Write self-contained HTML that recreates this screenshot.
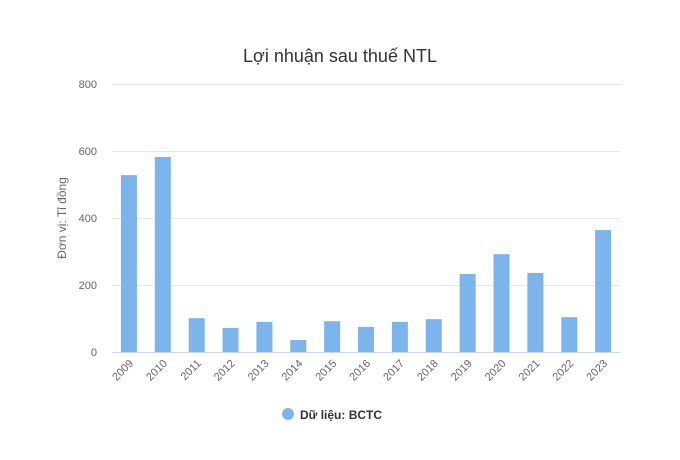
<!DOCTYPE html>
<html><head><meta charset="utf-8"><style>
body{margin:0;background:#fff;}
svg{display:block;font-family:"Liberation Sans","DejaVu Sans",sans-serif;}
</style></head><body>
<svg width="680" height="460" viewBox="0 0 680 460" xmlns="http://www.w3.org/2000/svg">
<rect width="680" height="460" fill="#fff"/>
<text x="340" y="62" text-anchor="middle" font-size="18" fill="#333">Lợi nhuận sau thuế NTL</text>
<g stroke="#e6e6e6" stroke-width="1">
<line x1="112" x2="620" y1="84.5" y2="84.5"/>
<line x1="112" x2="620" y1="151.5" y2="151.5"/>
<line x1="112" x2="620" y1="218.5" y2="218.5"/>
<line x1="112" x2="620" y1="285.5" y2="285.5"/>
</g>
<line x1="112" x2="620" y1="352.5" y2="352.5" stroke="#ccd6eb"/>
<g font-size="11" fill="#666" text-anchor="end">
<text x="97" y="88">800</text>
<text x="97" y="155">600</text>
<text x="97" y="222">400</text>
<text x="97" y="289">200</text>
<text x="97" y="356">0</text>
</g>
<text transform="translate(66,218) rotate(-90)" text-anchor="middle" font-size="12" fill="#666">Đơn vị: Tỉ đồng</text>
<g fill="#7cb5ec" id="bars"></g>
<g font-size="11" fill="#666" id="labels"></g>
<circle cx="288" cy="414" r="6" fill="#7cb5ec"/>
<text x="300" y="419" font-size="12" font-weight="bold" fill="#333">Dữ liệu: BCTC</text>
<script>
var v=[528,582,101,72,90,36,92,75,90,98,233,292,236,104,364];
var b=document.getElementById('bars'),l=document.getElementById('labels'),ns='http://www.w3.org/2000/svg';
for(var i=0;i<15;i++){var cx=112+33.87*(i+0.5);var h=v[i]*0.335;
var r=document.createElementNS(ns,'rect');r.setAttribute('x',cx-8);r.setAttribute('y',352-h);r.setAttribute('width',16);r.setAttribute('height',h);b.appendChild(r);
var t=document.createElementNS(ns,'text');t.setAttribute('text-anchor','end');t.setAttribute('transform','translate('+(cx+5)+',364) rotate(-45)');t.textContent=2009+i;l.appendChild(t);}
</script>
</svg>
</body></html>
